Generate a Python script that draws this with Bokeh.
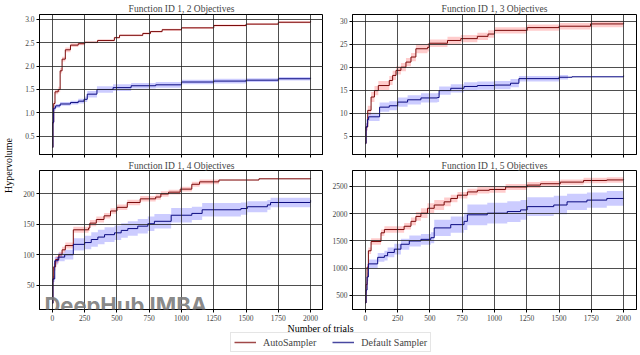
import math
from bokeh.plotting import figure
from bokeh.layouts import row, column
from bokeh.models import (Range1d, FixedTicker, NumeralTickFormatter, Label,
                          Legend, LegendItem)
from bokeh.embed import file_html
from bokeh.resources import INLINE

FONT = "Liberation Serif"

TITLES = ["Function ID 1, 2 Objectives", "Function ID 1, 3 Objectives",
          "Function ID 1, 4 Objectives", "Function ID 1, 5 Objectives"]
SERIES = ["AutoSampler", "Default Sampler"]
X_TICKS = [0, 250, 500, 750, 1000, 1250, 1500, 1750, 2000]

# ---- 2 objectives ----
X2_AUTO = [0, 4, 10, 20, 45, 60, 75, 100, 140, 200, 250, 350, 480, 520, 700, 760, 850, 1000, 1250, 1500, 1750, 2000]
M2_AUTO = [0.26, 0.8, 1.2, 1.45, 1.5, 1.9, 2.15, 2.35, 2.45, 2.48, 2.51, 2.55, 2.61, 2.66, 2.7, 2.74, 2.78, 2.82, 2.87, 2.9, 2.94, 2.97]
S2_AUTO = [0.01, 0.04, 0.05, 0.05, 0.06, 0.06, 0.05, 0.05, 0.04, 0.03, 0.02, 0.02, 0.02, 0.02, 0.02, 0.02, 0.02, 0.02, 0.02, 0.02, 0.02, 0.02]
X2_DEF = [0, 4, 10, 25, 60, 140, 200, 245, 270, 345, 470, 610, 800, 1000, 1250, 1500, 1750, 2000]
M2_DEF = [0.26, 0.8, 1.1, 1.15, 1.19, 1.22, 1.25, 1.29, 1.4, 1.5, 1.54, 1.58, 1.6, 1.66, 1.68, 1.7, 1.73, 1.75]
S2_DEF = [0.01, 0.04, 0.05, 0.04, 0.04, 0.04, 0.05, 0.06, 0.07, 0.07, 0.07, 0.06, 0.06, 0.05, 0.05, 0.04, 0.04, 0.04]
Y2_TICKS = [0.5, 1.0, 1.5, 2.0, 2.5, 3.0]

# ---- 3 objectives ----
X3_AUTO = [0, 5, 18, 44, 70, 100, 185, 211, 237, 275, 314, 353, 391, 481, 494, 636, 739, 867, 950, 1000, 1253, 1500, 1744, 2000]
M3_AUTO = [3.4, 7.0, 10.6, 13.5, 14.9, 16.0, 17.1, 18.2, 19.3, 20.0, 21.1, 22.2, 24.0, 24.3, 25.2, 25.8, 26.2, 26.7, 27.2, 28.0, 28.6, 28.9, 29.4, 29.65]
S3_AUTO = [0.3, 0.8, 1.0, 1.1, 1.0, 1.0, 1.0, 1.0, 0.9, 0.9, 0.9, 0.9, 1.0, 0.9, 0.8, 0.8, 0.8, 0.8, 0.8, 0.7, 0.7, 0.7, 0.7, 0.7]
X3_DEF = [0, 5, 15, 25, 110, 185, 250, 327, 430, 558, 571, 661, 764, 867, 1000, 1124, 1189, 1500, 1570, 1600, 2000]
M3_DEF = [3.4, 7.0, 8.6, 9.2, 11.3, 11.6, 12.4, 12.9, 13.3, 13.4, 14.9, 15.4, 15.8, 16.0, 16.1, 16.5, 17.5, 17.8, 17.8, 17.9, 18.2]
S3_DEF = [0.3, 0.8, 0.9, 0.9, 1.0, 1.0, 1.0, 1.0, 1.0, 1.0, 0.9, 0.9, 0.9, 0.9, 0.9, 0.9, 0.6, 0.5, 0.05, 0.05, 0.05]
Y3_TICKS = [5, 10, 15, 20, 25, 30]

# ---- 4 objectives ----
X4_AUTO = [0, 4, 10, 25, 50, 75, 100, 162, 280, 290, 340, 400, 450, 500, 580, 680, 800, 840, 900, 990, 1080, 1140, 1290, 1600, 2000]
M4_AUTO = [20, 60, 80, 92, 100, 108, 115, 141, 144, 152, 158, 164, 172, 178, 186, 192, 195, 200, 203, 208, 216, 220, 223, 225, 226]
S4_AUTO = [2, 5, 6, 6, 5, 5, 5, 5, 5, 5, 5, 4.5, 4.5, 4.5, 4.5, 4.5, 4.5, 4.5, 4, 4, 4, 4, 0.5, 0.5, 0.5]
X4_DEF = [0, 4, 18, 44, 95, 162, 250, 301, 352, 404, 481, 533, 584, 661, 739, 790, 920, 1080, 1160, 1460, 1510, 1665, 1690, 2000]
M4_DEF = [20, 60, 90, 96, 100, 117, 120, 125, 129, 133, 136, 140, 143, 147, 151, 155, 165, 168, 174, 176, 179, 182, 186, 190]
S4_DEF = [2, 5, 6, 7, 8, 10, 11, 12, 12, 12, 12, 12, 12, 12, 12, 12, 12, 11, 11, 10, 9, 8, 8, 7]
Y4_TICKS = [50, 100, 150, 200]

# ---- 5 objectives ----
X5_AUTO = [0, 5, 13, 23, 44, 121, 147, 300, 353, 391, 430, 481, 533, 610, 661, 713, 790, 867, 960, 1086, 1253, 1356, 1510, 1690, 1870, 2000]
M5_AUTO = [364, 700, 1020, 1320, 1490, 1650, 1710, 1770, 1860, 1950, 2010, 2100, 2160, 2218, 2280, 2340, 2400, 2430, 2445, 2490, 2525, 2550, 2580, 2610, 2620, 2635]
S5_AUTO = [20, 50, 60, 60, 60, 60, 60, 60, 70, 80, 90, 90, 90, 80, 70, 60, 60, 60, 60, 55, 55, 50, 50, 50, 50, 50]
X5_DEF = [0, 5, 13, 23, 95, 147, 172, 224, 275, 340, 430, 507, 533, 661, 764, 790, 944, 1099, 1202, 1253, 1459, 1562, 1716, 1870, 2000]
M5_DEF = [364, 600, 840, 1080, 1200, 1230, 1290, 1350, 1440, 1500, 1530, 1560, 1740, 1800, 1860, 1980, 2010, 2040, 2070, 2130, 2160, 2218, 2250, 2280, 2290]
S5_DEF = [20, 60, 80, 80, 80, 90, 90, 100, 100, 100, 100, 100, 150, 150, 160, 190, 190, 190, 180, 170, 170, 150, 140, 135, 130]
Y5_TICKS = [500, 1000, 1500, 2000, 2500]

LINE_COLORS = ["#7a0a0a", "#0a0a80"]
FILL_COLORS = ["#ff0000", "#0000ff"]
LEGEND_COLORS = ["#a04848", "#4848a0"]


def panel(title, series, yr, yticks, fmt, left, right, top, bottom, show_x,
          width, height, standoff):
    p = figure(width=width, height=height, x_range=Range1d(-100, 2100),
               y_range=Range1d(*yr), output_backend="svg", toolbar_location=None,
               min_border_left=left, min_border_right=right,
               min_border_top=top, min_border_bottom=bottom)
    p.title.text = title
    p.title.align = "center"
    p.title.text_font = FONT
    p.title.text_font_size = "9.5px"
    p.title.text_font_style = "normal"
    p.title.text_line_height = 1.0
    p.title.standoff = standoff
    p.outline_line_color = "black"
    p.outline_line_alpha = 1
    p.outline_line_width = 1
    xt = FixedTicker(ticks=X_TICKS)
    yt = FixedTicker(ticks=yticks)
    p.xaxis.ticker = xt
    p.yaxis.ticker = yt
    if fmt:
        p.yaxis.formatter = NumeralTickFormatter(format=fmt)
    for ax in (p.xaxis[0], p.yaxis[0]):
        ax.axis_line_color = "black"
        ax.major_tick_line_color = "black"
        ax.major_tick_out = 3
        ax.major_tick_in = 0
        ax.minor_tick_line_color = None
        ax.major_label_text_font = FONT
        ax.major_label_text_font_size = "7.5px"
        ax.major_label_standoff = 2
    if not show_x:
        p.xaxis.major_label_text_alpha = 0
        p.xaxis.major_label_text_font_size = "1px"
        p.xaxis.major_label_standoff = 0
    for g, t in ((p.xgrid[0], xt), (p.ygrid[0], yt)):
        g.ticker = t
        g.level = "glyph"
        g.grid_line_color = "#222222"
        g.grid_line_alpha = 0.8
        g.grid_line_width = 1
    for i, (xs, ms, ss) in enumerate(series):
        lo = [m - s for m, s in zip(ms, ss)]
        hi = [m + s for m, s in zip(ms, ss)]
        p.varea_step(x=xs, y1=lo, y2=hi, step_mode="after",
                     fill_color=FILL_COLORS[i], fill_alpha=0.2)
    for i, (xs, ms, ss) in enumerate(series):
        p.step(x=xs, y=ms, mode="after", line_color=LINE_COLORS[i], line_width=1.0)
    return p


p1 = panel(TITLES[0], [(X2_AUTO, M2_AUTO, S2_AUTO), (X2_DEF, M2_DEF, S2_DEF)],
           (0.108, 3.106), Y2_TICKS, "0.0", 19, 0, 14, 4, False, 303, 158, 1)
p2 = panel(TITLES[1], [(X3_AUTO, M3_AUTO, S3_AUTO), (X3_DEF, M3_DEF, S3_DEF)],
           (1.0, 31.45), Y3_TICKS, None, 29, 4, 14, 4, False, 317, 158, 1)
p3 = panel(TITLES[2], [(X4_AUTO, M4_AUTO, S4_AUTO), (X4_DEF, M4_DEF, S4_DEF)],
           (9.7, 238.7), Y4_TICKS, None, 19, 0, 10, 13, True, 303, 165, 0)
p4 = panel(TITLES[3], [(X5_AUTO, M5_AUTO, S5_AUTO), (X5_DEF, M5_DEF, S5_DEF)],
           (243, 2793), Y5_TICKS, None, 29, 4, 10, 13, True, 317, 165, 0)

p3.add_layout(Label(x=-62, y=17, text="DeepHub IMBA", text_font="Inter",
                    text_font_size="22px", text_font_style="bold",
                    text_color="#7a7a7a", text_alpha=0.9,
                    text_baseline="alphabetic", text_align="left"))

left = figure(width=20, height=323, x_range=Range1d(0, 20), y_range=Range1d(0, 323),
              x_axis_type=None, y_axis_type=None, toolbar_location=None,
              output_backend="svg", min_border=0, outline_line_color=None)
left.add_layout(Label(x=8, y=158, text="Hypervolume", angle=math.pi / 2,
                      text_align="center", text_baseline="middle",
                      text_font=FONT, text_font_size="10px", text_color="black"))

bottom = figure(width=640, height=32, x_range=Range1d(0, 640), y_range=Range1d(0, 32),
                x_axis_type=None, y_axis_type=None, toolbar_location=None,
                output_backend="svg", min_border=0, outline_line_color=None)
bottom.add_layout(Label(x=320, y=27, text="Number of trials", text_align="center",
                        text_baseline="middle", text_font=FONT, text_font_size="10px",
                        text_color="black"))
# legend handles: data placed outside the visible range
r_auto = bottom.line(x=[-50, -40], y=[-50, -50], line_color=LEGEND_COLORS[0], line_width=1.5)
r_def = bottom.line(x=[-50, -40], y=[-50, -50], line_color=LEGEND_COLORS[1], line_width=1.5)
legend = Legend(items=[LegendItem(label=SERIES[0], renderers=[r_auto]),
                       LegendItem(label=SERIES[1], renderers=[r_def])],
                orientation="horizontal", location=(230, 3), margin=0, padding=3,
                glyph_width=22, glyph_height=12, label_height=12, label_width=10,
                label_standoff=7, spacing=16,
                label_text_font=FONT, label_text_font_size="10px",
                border_line_color="#cccccc", border_line_width=1,
                background_fill_color="white", background_fill_alpha=1)
bottom.add_layout(legend)

layout = column(row(left, column(row(p1, p2), row(p3, p4))), bottom)

open("out.html", "w").write(file_html(layout, INLINE))
